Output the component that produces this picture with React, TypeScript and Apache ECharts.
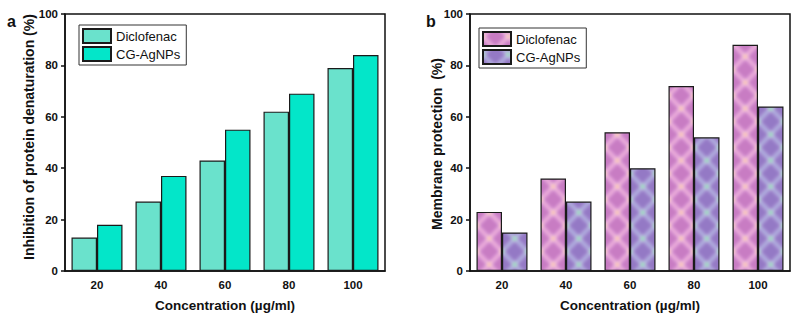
import React, { useEffect, useRef } from 'react';
import * as echarts from 'echarts';

// Concentration levels (µg/ml)
const categories = ['20', '40', '60', '80', '100'];
const seriesNames = ['Diclofenac', 'CG-AgNPs'];

// Panel a: inhibition of protein denaturation (%)
const inhibitionDiclofenac = [13, 27, 43, 62, 79];
const inhibitionAgNPs = [18, 37, 55, 69, 84];

// Panel b: membrane protection (%)
const membraneDiclofenac = [23, 36, 54, 72, 88];
const membraneAgNPs = [15, 27, 40, 52, 64];

const yMin = 0;
const yMax = 100;
const yStep = 20;

const FONT = 'Arial, "Liberation Sans", Helvetica, sans-serif';
const INK = '#111111';

// Plaid tile geometry for the textured bars of panel b
const TILE_W = 64;
const TILE_H = 26;
const ROW0 = 4.5;
const PERIOD_X = 25.5;
const PAD = 16;

function plaidTile(cx: number, base: string, dark: string, light: string, dot: string) {
  const bw = TILE_W + PAD * 2;
  const bh = TILE_H * 3;
  const big = document.createElement('canvas');
  big.width = bw;
  big.height = bh;
  const g = big.getContext('2d')!;
  const c = cx + PAD;
  g.fillStyle = base;
  g.fillRect(0, 0, bw, bh);
  const hx = PERIOD_X / 2;
  const hy = TILE_H / 2;

  // darker diamonds between the crossing bands
  g.fillStyle = dark;
  for (let j = -1; j <= 4; j++) {
    for (let k = -4; k <= 4; k++) {
      const centers = [
        [c + k * PERIOD_X, ROW0 + j * TILE_H + hy],
        [c + (k + 0.5) * PERIOD_X, ROW0 + j * TILE_H],
      ];
      for (const [x, y] of centers) {
        g.beginPath();
        g.moveTo(x, y - hy * 0.68);
        g.lineTo(x + hx * 0.68, y);
        g.lineTo(x, y + hy * 0.68);
        g.lineTo(x - hx * 0.68, y);
        g.closePath();
        g.fill();
      }
    }
  }

  // light diagonal bands through the dot lattice
  g.strokeStyle = light;
  g.lineWidth = 2;
  for (let k = -10; k <= 10; k++) {
    const x0 = c + k * PERIOD_X;
    for (const dir of [1, -1]) {
      const yA = -10;
      const yB = bh + 10;
      g.beginPath();
      g.moveTo(x0 + dir * ((yA - ROW0) * hx) / hy, yA);
      g.lineTo(x0 + dir * ((yB - ROW0) * hx) / hy, yB);
      g.stroke();
    }
  }

  // glowing dots at the band crossings
  for (let j = -1; j <= 4; j++) {
    for (let k = -4; k <= 4; k++) {
      const pts = [
        [c + k * PERIOD_X, ROW0 + j * TILE_H],
        [c + (k + 0.5) * PERIOD_X, ROW0 + (j + 0.5) * TILE_H],
      ];
      for (const [x, y] of pts) {
        const rg = g.createRadialGradient(x, y, 0, x, y, 4.5);
        rg.addColorStop(0, dot);
        rg.addColorStop(1, 'rgba(255,255,255,0)');
        g.fillStyle = rg;
        g.fillRect(x - 5, y - 5, 10, 10);
      }
    }
  }

  const soft = document.createElement('canvas');
  soft.width = bw;
  soft.height = bh;
  const s = soft.getContext('2d')!;
  s.filter = 'blur(1.6px)';
  s.drawImage(big, 0, 0);

  const tile = document.createElement('canvas');
  tile.width = TILE_W;
  tile.height = TILE_H;
  tile.getContext('2d')!.drawImage(soft, PAD, TILE_H, TILE_W, TILE_H, 0, 0, TILE_W, TILE_H);
  return {
    image: tile,
    repeat: 'repeat',
    imageWidth: TILE_W,
    imageHeight: TILE_H,
  };
}

type PanelSpec = {
  gridLeft: number;
  gridRight: number;
  colors: [any, any];
  values: [number[], number[]];
  letter: string;
  letterX: number;
  yTitle: string;
  yTitleX: number;
  yTitleY: number;
  legendTop: number;
};

function buildOption(p: PanelSpec) {
  const plotCenter = p.gridLeft + (400 - p.gridLeft - p.gridRight) / 2;
  return {
    animation: false,
    grid: {
      left: p.gridLeft,
      right: p.gridRight,
      top: 14,
      bottom: 47,
      show: true,
      borderColor: INK,
      borderWidth: 1.5,
      backgroundColor: 'transparent',
    },
    xAxis: {
      type: 'category',
      data: categories,
      boundaryGap: true,
      axisLine: { lineStyle: { color: INK, width: 1.5 } },
      axisTick: { alignWithLabel: true, length: 4, lineStyle: { color: INK, width: 1.5 } },
      axisLabel: { color: INK, fontFamily: FONT, fontSize: 11.5, fontWeight: 'bold', margin: 8 },
      splitLine: { show: false },
    },
    yAxis: {
      type: 'value',
      min: yMin,
      max: yMax,
      interval: yStep,
      axisLine: { show: true, lineStyle: { color: INK, width: 1.5 } },
      axisTick: { show: true, length: 4, lineStyle: { color: INK, width: 1.5 } },
      axisLabel: { color: INK, fontFamily: FONT, fontSize: 11.5, fontWeight: 'bold', margin: 7 },
      splitLine: { show: false },
    },
    legend: {
      data: seriesNames,
      left: 79,
      top: p.legendTop,
      orient: 'vertical',
      icon: 'rect',
      itemWidth: 28,
      itemHeight: 14,
      itemGap: 2,
      padding: [3, 6, 3, 3],
      borderColor: '#333',
      borderWidth: 1,
      backgroundColor: '#fff',
      selectedMode: false,
      textStyle: { fontFamily: FONT, fontSize: 13, color: INK, lineHeight: 14 },
    },
    series: seriesNames.map((name, i) => ({
      type: 'bar',
      name,
      data: p.values[i],
      barWidth: 25.5,
      barGap: '0%',
      itemStyle: { color: p.colors[i], borderColor: '#1a1a1a', borderWidth: 1.2 },
    })),
    graphic: [
      {
        type: 'text',
        x: p.letterX,
        y: 13,
        style: { text: p.letter, fontFamily: FONT, fontSize: 16, fontWeight: 'bold', fill: INK },
      },
      {
        type: 'text',
        x: p.yTitleX,
        y: p.yTitleY,
        rotation: Math.PI / 2,
        style: {
          text: p.yTitle,
          fontFamily: FONT,
          fontSize: 14,
          fontWeight: 'bold',
          fill: INK,
          align: 'center',
          verticalAlign: 'middle',
        },
      },
      {
        type: 'text',
        x: plotCenter,
        y: 305,
        style: {
          text: 'Concentration (µg/ml)',
          fontFamily: FONT,
          fontSize: 13.5,
          fontWeight: 'bold',
          fill: INK,
          align: 'center',
          verticalAlign: 'middle',
        },
      },
    ],
  };
}

function Panel({ left, make }: { left: number; make: () => any }) {
  const ref = useRef<HTMLDivElement>(null);
  useEffect(() => {
    const chart = echarts.init(ref.current!, null, { renderer: 'svg' });
    chart.setOption(make());
    return () => chart.dispose();
  }, []);
  return <div ref={ref} style={{ position: 'absolute', left, top: 0, width: 400, height: 318 }} />;
}

export default function App() {
  const makeA = () =>
    buildOption({
      gridLeft: 65,
      gridRight: 15,
      colors: ['#6ae2cc', '#03e6c9'],
      values: [inhibitionDiclofenac, inhibitionAgNPs],
      letter: 'a',
      letterX: 7,
      yTitle: 'Inhibition of protein denaturation (%)',
      yTitleX: 29,
      yTitleY: 137,
      legendTop: 25,
    });

  const makeB = () => {
    // bar centres inside the 64px tile: Diclofenac at 25.25, CG-AgNPs at 50.75
    const pink = plaidTile(25.25, '#da99d6', '#c87cc3', 'rgba(246,182,216,0.8)', 'rgba(252,192,145,0.9)');
    const lilac = plaidTile(50.75, '#a995d4', '#9479c5', 'rgba(176,188,226,0.8)', 'rgba(115,226,155,0.9)');
    return buildOption({
      gridLeft: 70,
      gridRight: 10,
      colors: [pink, lilac],
      values: [membraneDiclofenac, membraneAgNPs],
      letter: 'b',
      letterX: 26,
      yTitle: 'Membrane protection  (%)',
      yTitleX: 37,
      yTitleY: 144,
      legendTop: 28,
    });
  };

  return (
    <div style={{ position: 'fixed', left: 0, top: 0, width: 800, height: 318, background: '#fff' }}>
      <Panel left={0} make={makeA} />
      <Panel left={400} make={makeB} />
    </div>
  );
}
